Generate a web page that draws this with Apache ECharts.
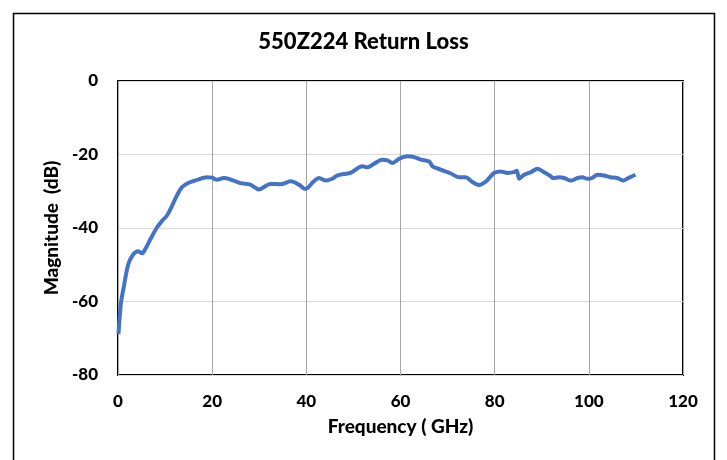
<!DOCTYPE html>
<html><head><meta charset="utf-8">
<script src="https://cdn.jsdelivr.net/npm/echarts@6/dist/echarts.min.js"></script>
<style>html,body{margin:0;padding:0;background:#fff}#c{width:727px;height:460px}</style>
</head><body><div id="c"></div>
<script>
const titleText = '550Z224 Return Loss';
const xName = 'Frequency ( GHz)';
const yName = 'Magnitude  (dB)';
const freq = [0.1,0.6,1.2,2.2,3.3,4.3,5.1,5.8,6.9,8.3,9.4,10.4,11.5,12.5,13.6,15,16.8,18.9,20,21,22.5,23.9,26,28.1,29.9,32.4,34.5,36.7,38.4,39.8,41.6,42.7,44.1,45.5,46.6,48,49.4,51.9,53,54.4,56.1,57.2,58.3,59.7,61.5,62.9,64.3,66.1,66.8,68.5,70.6,72.4,73.8,75.3,76.7,78.1,79.2,79.9,81.3,82.7,84.1,84.7,85.2,86.3,87.7,89.1,90.5,91.9,92.3,93.7,94.8,96.2,97.6,98.6,99.7,100.7,101.8,103.2,104.6,106,107.4,108.1,109.2,109.9];
const magnitude = [-68.9,-60.7,-56.2,-49.8,-47.1,-46.3,-46.9,-45.7,-43,-39.8,-38,-36.6,-33.9,-31.2,-28.9,-27.7,-26.9,-26.2,-26.3,-26.9,-26.4,-26.8,-27.8,-28.2,-29.5,-28,-28.1,-27.3,-28.2,-29.4,-27.3,-26.4,-27.1,-26.6,-25.7,-25.3,-25.0,-23.2,-23.5,-22.5,-21.4,-21.6,-22.3,-21.2,-20.5,-20.7,-21.4,-21.9,-23.2,-24.1,-25.1,-26.2,-26.2,-27.5,-28.3,-27.4,-25.9,-25.0,-24.6,-25,-24.8,-24.4,-26.6,-25.5,-24.8,-23.9,-24.8,-25.9,-26.4,-26.2,-26.4,-27.1,-26.4,-26.2,-26.6,-26.4,-25.5,-25.7,-26.2,-26.4,-27.1,-26.6,-25.9,-25.5];
const xTicks = [0,20,40,60,80,100,120];
const yTicks = [-80,-60,-40,-20,0];

const font = 'Lato, "Open Sans", sans-serif';
const chart = echarts.init(document.getElementById('c'), null, {renderer:'canvas'});
chart.setOption({
  animation:false,
  backgroundColor:'#fff',
  title:{text:titleText,left:'center',top:26,textStyle:{fontFamily:font,fontWeight:900,fontSize:22,color:'#000'}},
  grid:{left:118,top:81,right:44,bottom:85,show:true,borderColor:'#000',borderWidth:2,backgroundColor:'transparent'},
  xAxis:{type:'value',min:xTicks[0],max:xTicks[xTicks.length-1],interval:20,
    name:xName,nameLocation:'middle',nameGap:42,
    nameTextStyle:{fontFamily:font,fontWeight:900,fontSize:19,color:'#000'},
    axisLine:{show:false},axisTick:{show:false},
    axisLabel:{margin:18,fontFamily:font,fontWeight:900,fontSize:17,color:'#000'},
    splitLine:{show:true,lineStyle:{color:'#a6a6a6',width:1}}},
  yAxis:{type:'value',min:yTicks[0],max:yTicks[yTicks.length-1],interval:20,
    name:yName,nameLocation:'middle',nameGap:54,
    nameTextStyle:{fontFamily:font,fontWeight:900,fontSize:19,color:'#000'},
    axisLine:{show:false},axisTick:{show:false},
    axisLabel:{margin:20,fontFamily:font,fontWeight:900,fontSize:17,color:'#000'},
    splitLine:{show:true,lineStyle:{color:'#d9d9d9',width:1}}},
  series:[{type:'line',data:freq.map((f,i)=>[f,magnitude[i]]),smooth:0.3,showSymbol:false,
    lineStyle:{color:'#4472C4',width:4},itemStyle:{color:'#4472C4'}}],
  graphic:[{type:'rect',shape:{x:13.5,y:13.5,width:701,height:470},style:{fill:'none',stroke:'#000',lineWidth:1.5},silent:true}]
});
</script></body></html>
